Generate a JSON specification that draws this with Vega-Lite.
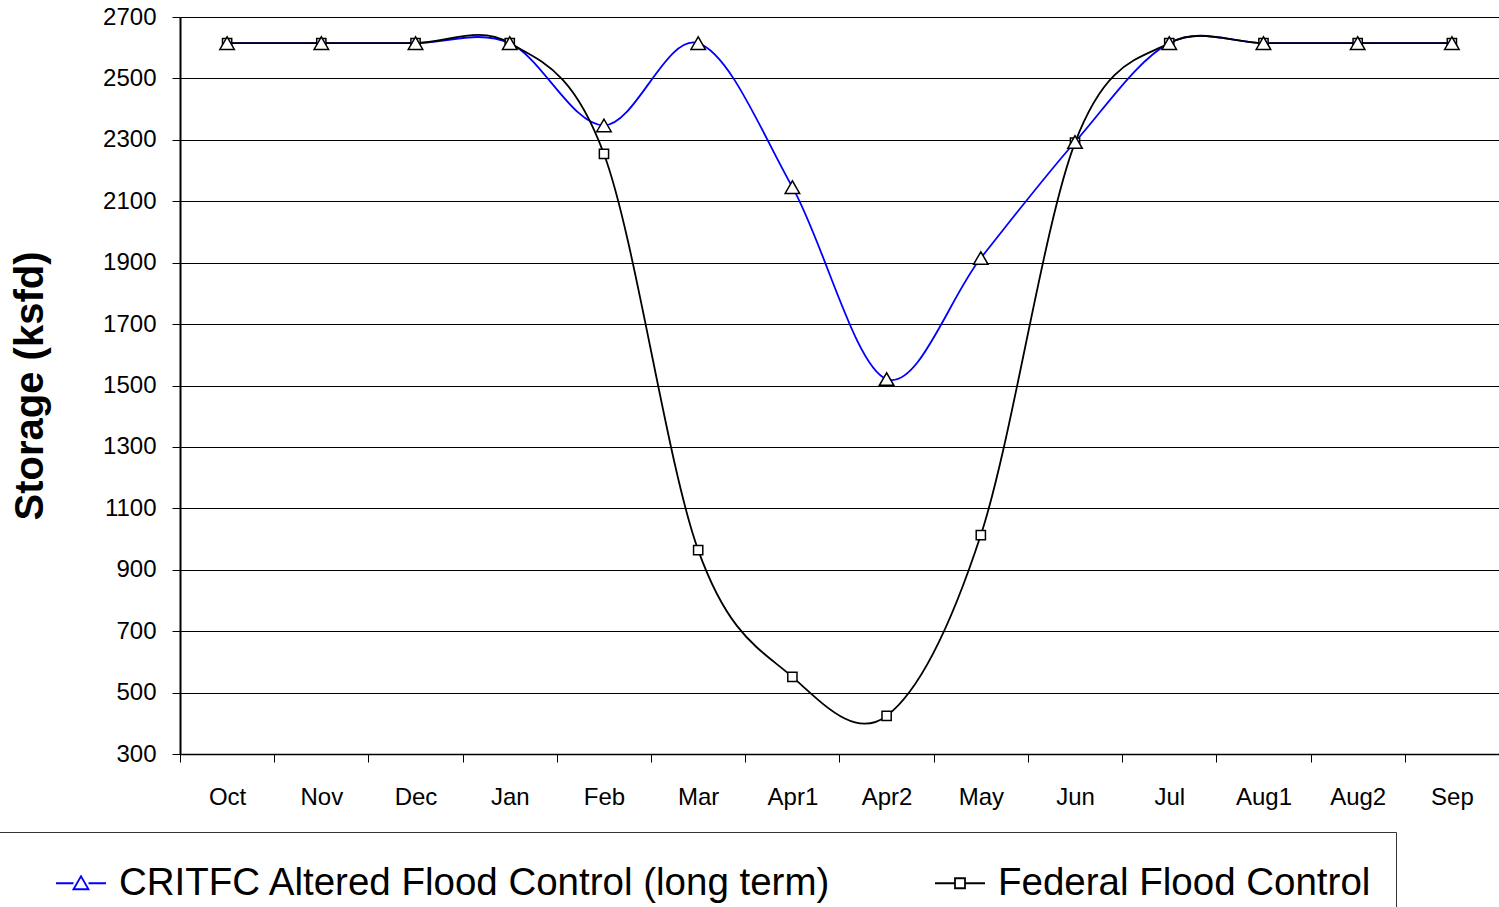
{
  "$schema": "https://vega.github.io/schema/vega-lite/v6.json",
  "autosize": {"type": "none"},
  "padding": {"left": 180, "top": 17, "right": 0, "bottom": 153},
  "width": 1319,
  "height": 737,
  "background": "white",
  "config": {
    "font": "Liberation Sans",
    "view": {"stroke": null},
    "axis": {"labelFont": "Liberation Sans", "titleFont": "Liberation Sans", "labelColor": "black", "titleColor": "black"}
  },
  "data": {
    "values": [
      {"month": "Oct", "series": "CRITFC Altered Flood Control (long term)", "storage": 2615},
      {"month": "Nov", "series": "CRITFC Altered Flood Control (long term)", "storage": 2615},
      {"month": "Dec", "series": "CRITFC Altered Flood Control (long term)", "storage": 2615},
      {"month": "Jan", "series": "CRITFC Altered Flood Control (long term)", "storage": 2615},
      {"month": "Feb", "series": "CRITFC Altered Flood Control (long term)", "storage": 2347},
      {"month": "Mar", "series": "CRITFC Altered Flood Control (long term)", "storage": 2615},
      {"month": "Apr1", "series": "CRITFC Altered Flood Control (long term)", "storage": 2146},
      {"month": "Apr2", "series": "CRITFC Altered Flood Control (long term)", "storage": 1521},
      {"month": "May", "series": "CRITFC Altered Flood Control (long term)", "storage": 1915},
      {"month": "Jun", "series": "CRITFC Altered Flood Control (long term)", "storage": 2293},
      {"month": "Jul", "series": "CRITFC Altered Flood Control (long term)", "storage": 2615},
      {"month": "Aug1", "series": "CRITFC Altered Flood Control (long term)", "storage": 2615},
      {"month": "Aug2", "series": "CRITFC Altered Flood Control (long term)", "storage": 2615},
      {"month": "Sep", "series": "CRITFC Altered Flood Control (long term)", "storage": 2615},
      {"month": "Oct", "series": "Federal Flood Control", "storage": 2615},
      {"month": "Nov", "series": "Federal Flood Control", "storage": 2615},
      {"month": "Dec", "series": "Federal Flood Control", "storage": 2615},
      {"month": "Jan", "series": "Federal Flood Control", "storage": 2615},
      {"month": "Feb", "series": "Federal Flood Control", "storage": 2254},
      {"month": "Mar", "series": "Federal Flood Control", "storage": 964},
      {"month": "Apr1", "series": "Federal Flood Control", "storage": 551},
      {"month": "Apr2", "series": "Federal Flood Control", "storage": 424},
      {"month": "May", "series": "Federal Flood Control", "storage": 1013},
      {"month": "Jun", "series": "Federal Flood Control", "storage": 2291},
      {"month": "Jul", "series": "Federal Flood Control", "storage": 2615},
      {"month": "Aug1", "series": "Federal Flood Control", "storage": 2615},
      {"month": "Aug2", "series": "Federal Flood Control", "storage": 2615},
      {"month": "Sep", "series": "Federal Flood Control", "storage": 2615}
    ]
  },
  "encoding": {
    "x": {
      "field": "month",
      "type": "ordinal",
      "sort": null,
      "bandPosition": 0.5,
      "scale": {"type": "band", "paddingInner": 0, "paddingOuter": 0},
      "axis": {
        "title": null,
        "labelAngle": 0,
        "labelFontSize": 24,
        "labelPadding": 23,
        "tickBand": "extent",
        "tickSize": 8,
        "tickColor": "black",
        "tickWidth": 1,
        "domainColor": "black",
        "domainWidth": 1.5,
        "grid": false
      }
    },
    "y": {
      "field": "storage",
      "type": "quantitative",
      "scale": {"domain": [300, 2700], "nice": false, "zero": false},
      "axis": {
        "title": "Storage (ksfd)",
        "titleFontSize": 40,
        "titleFontWeight": "bold",
        "titlePadding": 52,
        "format": "d",
        "values": [300, 500, 700, 900, 1100, 1300, 1500, 1700, 1900, 2100, 2300, 2500, 2700],
        "labelFontSize": 24,
        "labelPadding": 16,
        "tickSize": 8,
        "tickColor": "black",
        "domainColor": "black",
        "domainWidth": 2,
        "grid": true,
        "gridColor": "black",
        "gridWidth": 1,
        "gridOpacity": 1
      }
    }
  },
  "layer": [
    {
      "mark": {"type": "line", "interpolate": "cardinal", "tension": 0, "strokeWidth": 1.8},
      "encoding": {
        "color": {
          "field": "series",
          "type": "nominal",
          "scale": {"domain": ["CRITFC Altered Flood Control (long term)", "Federal Flood Control"], "range": ["#0000FF", "#000000"]},
          "legend": {
            "title": null,
            "orient": "none",
            "legendX": -205,
            "legendY": 815,
            "direction": "horizontal",
            "columns": 2,
            "padding": 25,
            "strokeColor": "#333333",
            "labelFont": "Liberation Sans",
            "labelFontSize": 38.5,
            "labelColor": "black",
            "labelLimit": 1000,
            "labelOffset": 12,
            "symbolOffset": 55,
            "columnPadding": 47,
            "symbolSize": 2500,
            "symbolStrokeWidth": 1.8,
            "encode": {
              "symbols": {
                "update": {
                  "shape": {"signal": "datum.value === 'Federal Flood Control' ? 'M-1,0H-0.2M0.2,0H1M-0.2,-0.2H0.2V0.2H-0.2Z' : 'M-1,0H-0.3M0.3,0H1M-0.3,0.24L0,-0.28L0.3,0.24Z'"},
                  "size": {"value": 2500},
                  "fill": {"value": "white"},
                  "fillOpacity": {"value": 1}
                }
              }
            }
          }
        }
      }
    },
    {
      "transform": [{"filter": "datum.series === 'Federal Flood Control'"}],
      "mark": {"type": "point", "shape": "square", "size": 85, "filled": true, "fill": "white", "stroke": "black", "strokeWidth": 1.5, "opacity": 1}
    },
    {
      "transform": [{"filter": "datum.series === 'CRITFC Altered Flood Control (long term)'"}],
      "mark": {"type": "point", "shape": "triangle-up", "size": 210, "filled": true, "fill": "white", "stroke": "black", "strokeWidth": 1.5, "opacity": 1}
    }
  ]
}
